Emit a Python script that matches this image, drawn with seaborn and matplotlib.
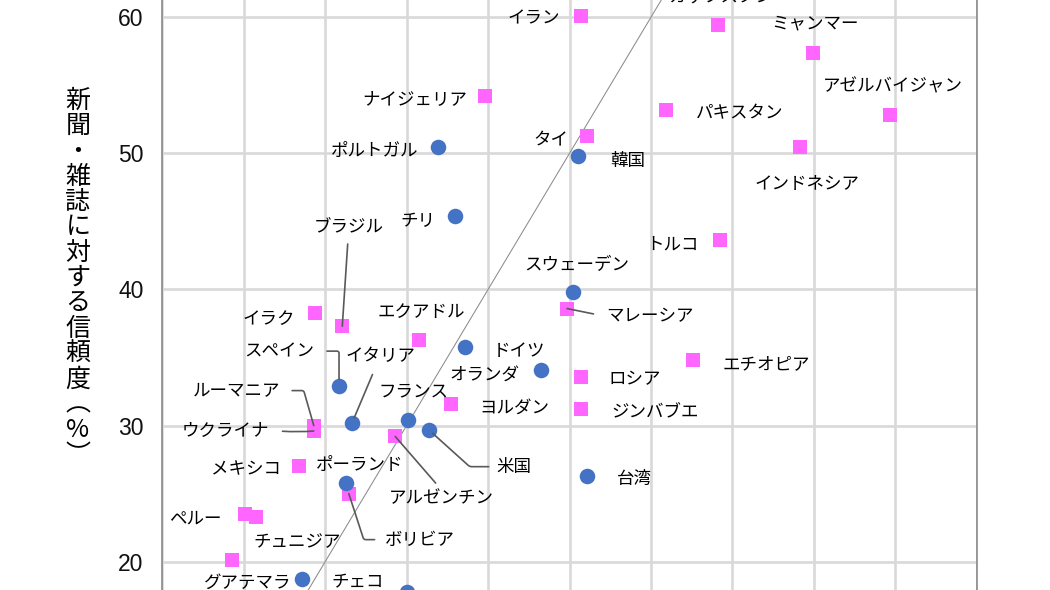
import matplotlib
matplotlib.use("Agg")
import matplotlib.pyplot as plt
import seaborn as sns
import pandas as pd

# ---------------- data ----------------
pink_names = ["イラン", "カザフスタン", "ミャンマー", "アゼルバイジャン", "パキスタン",
              "インドネシア", "タイ", "ナイジェリア", "トルコ", "マレーシア", "エチオピア",
              "ロシア", "ジンバブエ", "ヨルダン", "エクアドル", "イラク", "ブラジル",
              "ルーマニア", "ウクライナ", "アルゼンチン", "メキシコ", "ボリビア",
              "ペルー", "チュニジア", ""]
pink_x = [51.4, 68.2, 79.9, 89.4, 61.9, 78.3, 52.2, 39.6, 68.5, 49.7, 65.2,
          51.4, 51.4, 35.5, 31.5, 18.8, 22.1, 18.6, 18.6, 28.6, 16.8, 22.9,
          10.2, 11.5, 8.6]
pink_y = [60.1, 59.4, 57.4, 52.8, 53.2, 50.5, 51.3, 54.2, 43.6, 38.6, 34.8,
          33.6, 31.2, 31.6, 36.3, 38.3, 37.3, 30.0, 29.6, 29.2, 27.0, 25.0,
          23.5, 23.3, 20.1]

blue_names = ["韓国", "ポルトガル", "チリ", "スウェーデン", "ドイツ", "オランダ",
              "スペイン", "イタリア", "フランス", "米国", "台湾", "ポーランド",
              "グアテマラ", "チェコ"]
blue_x = [51.0, 33.9, 36.0, 50.4, 37.2, 46.5, 21.7, 23.3, 30.2, 32.7, 52.2,
          22.5, 17.2, 30.0]
blue_y = [49.8, 50.5, 45.4, 39.8, 35.8, 34.1, 32.9, 30.2, 30.4, 29.7, 26.3,
          25.8, 18.7, 17.8]

ylabel_text = "新聞・雑誌に対する信頼度︵%︶"
y_ticks = [20, 30, 40, 50, 60]
x_grid = [0, 10, 20, 30, 40, 50, 60, 70, 80, 90, 100]
diag = [0, 100]

# ---------------- style ----------------
sns.set_style("white")
plt.rcParams["font.family"] = ["Noto Sans CJK JP", "DejaVu Sans"]

PINK = "#FF66FF"
BLUE = "#4472C4"
GRID = "#D9D9D9"
CONN = "#595959"

W, H = 1050, 590
fig = plt.figure(figsize=(W / 100, H / 100), dpi=100)
ax = fig.add_axes([162.3 / W, 0.0, 814.4 / W, 1.0])

pink_df = pd.DataFrame({"x": pink_x, "y": pink_y, "name": pink_names})
blue_df = pd.DataFrame({"x": blue_x, "y": blue_y, "name": blue_names})

ax.set_xlim(0, 100)
ax.set_ylim(17.92, 61.27)

# grid
ax.set_xticks(x_grid)
ax.set_xticklabels([])
ax.set_yticks(y_ticks)
ax.grid(True, color=GRID, lw=1.9, zorder=0)
ax.set_axisbelow(True)
ax.tick_params(axis="x", length=0)
ax.tick_params(axis="y", length=5, width=1.0, color="#808080", pad=8.5,
               labelsize=16.5, labelcolor="#111111")
for lab in ax.get_yticklabels():
    lab.set_fontfamily(["Liberation Sans", "DejaVu Sans"])

for side in ["top", "bottom"]:
    ax.spines[side].set_visible(False)
for side in ["left", "right"]:
    ax.spines[side].set_color("#808080")
    ax.spines[side].set_linewidth(1.1)

# diagonal y = x reference line
ax.plot(diag, diag, color="#8C8C8C", lw=0.75, zorder=2)

sns.scatterplot(data=pink_df, x="x", y="y", marker="s", s=95, color=PINK,
                linewidth=0, ax=ax, zorder=4)
sns.scatterplot(data=blue_df, x="x", y="y", marker="o", s=125, color=BLUE,
                linewidth=0, ax=ax, zorder=4)
ax.set_xlabel("")
ax.set_ylabel("")

# label layout: offset (pixels, y up) of text centre from point, optional connector
layout = {
    "イラン": (-47, -2, None),
    "カザフスタン": (3, 29, None),
    "ミャンマー": (2, 29, None),
    "アゼルバイジャン": (2, 29, None),
    "パキスタン": (73, -3, None),
    "インドネシア": (7, -37, None),
    "タイ": (-37, -5, None),
    "ナイジェリア": (-70, -3, None),
    "トルコ": (-48, -4, None),
    "マレーシア": (83, -8, dict(relpos=(0, 0.5), cs="arc3", sA=7, sB=0)),
    "エチオピア": (73, -4, None),
    "ロシア": (54, -3, None),
    "ジンバブエ": (74, -2, None),
    "ヨルダン": (63, -4, None),
    "エクアドル": (2, 28, None),
    "イラク": (-47, -6, None),
    "ブラジル": (6, 100, dict(relpos=(0.5, 0), cs="arc3", sA=4, sB=0)),
    "ルーマニア": (-77, 35, dict(relpos=(1, 0.5), cs="angle,angleA=0,angleB=-74,rad=2", sA=6, sB=0)),
    "ウクライナ": (-88, 1, dict(relpos=(1, 0.5), cs="arc3,rad=0.05", sA=7, sB=0)),
    "アルゼンチン": (46, -62, dict(relpos=(0.5, 1), cs="arc3", sA=3, sB=0)),
    "メキシコ": (-53, -3, None),
    "ボリビア": (71, -46, dict(relpos=(0, 0.5), cs="angle,angleA=0,angleB=-72,rad=2", sA=5, sB=0)),
    "ペルー": (-50, -5, None),
    "チュニジア": (41, -25, None),
    "韓国": (50, -5, None),
    "ポルトガル": (-64, -4, None),
    "チリ": (-38, -5, None),
    "スウェーデン": (4, 27, None),
    "ドイツ": (54, -4, None),
    "オランダ": (-57, -5, None),
    "スペイン": (-60, 35, dict(relpos=(1, 0.5), cs="angle,angleA=0,angleB=90,rad=2", sA=7, sB=5)),
    "イタリア": (28, 67, dict(relpos=(0.45, 0), cs="arc3", sA=5, sB=4)),
    "フランス": (5, 29, None),
    "米国": (85, -37, dict(relpos=(0, 0.5), cs="angle,angleA=0,angleB=-42,rad=2", sA=3, sB=4)),
    "台湾": (47, -3, None),
    "ポーランド": (14, 18, None),
    "グアテマラ": (-55, -3, None),
    "チェコ": (-49, 9, None),
}

def label_points(df):
    for _, row in df.iterrows():
        if not row["name"] or row["name"] not in layout:
            continue
        dx, dy, conn = layout[row["name"]]
        kw = {}
        if conn is not None:
            kw["arrowprops"] = dict(arrowstyle="-", color=CONN, lw=1.2,
                                    relpos=conn["relpos"],
                                    connectionstyle=conn["cs"],
                                    shrinkA=conn["sA"], shrinkB=conn["sB"])
        ax.annotate(row["name"], xy=(row["x"], row["y"]), xytext=(dx, dy),
                    textcoords="offset pixels", ha="center", va="center",
                    fontsize=12.6, color="black", annotation_clip=False,
                    zorder=5, **kw)

label_points(pink_df)
label_points(blue_df)

# vertical y-axis title, one character per row
y0 = 101
pitch = 25.3
for i, ch in enumerate(ylabel_text):
    fig.text(78 / W, 1 - (y0 + i * pitch) / H, ch, ha="center", va="center",
             fontsize=18, color="black")

fig.savefig("out.png", dpi=100)
